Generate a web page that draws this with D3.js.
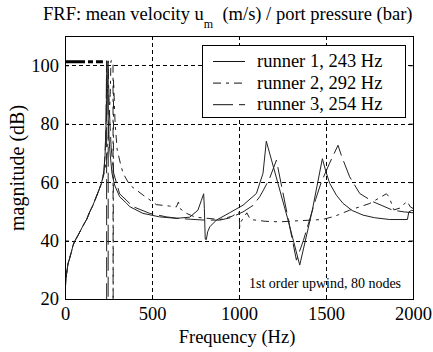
<!DOCTYPE html>
<html>
<head>
<meta charset="utf-8">
<script src="https://cdn.jsdelivr.net/npm/d3@7"></script>
<style>
  body { margin: 0; background: #fff; }
  svg text { font-family: "Liberation Serif", serif; fill: #000; }
</style>
</head>
<body>
<div id="chart"></div>
<script>
// ticks
const xTicks = [0, 500, 1000, 1500, 2000];
const yTicks = [20, 40, 60, 80, 100];

// shared low frequency branch [Hz, dB]
const lowFreq = [[0, 20], [2, 24], [5, 26.5], [10, 29], [17, 32], [27, 34], [37, 36.2], [47, 38.5],
  [58, 40], [75, 41.8], [103, 45], [125, 47.3], [142, 49.8], [160, 52], [180, 55], [195, 57.3], [209, 59.5]];

const runner1 = [[222, 63], [230, 69], [236, 80], [239, 92], [241, 101.5], [244, 92],
  [248, 82], [256, 72], [270, 63], [285, 59], [314, 55], [353, 52.8], [372, 51.6], [448, 49.3],
  [544, 48.1], [640, 47.6], [717, 48], [764, 50.4], [784, 53.8], [797, 56], [801, 51], [806, 40.5],
  [812, 40.3], [820, 43], [832, 44.7], [870, 47], [946, 49.5], [1023, 52.1], [1100, 56.1],
  [1138, 63], [1157, 74], [1282, 47], [1349, 31.6], [1420, 50], [1479, 68], [1500, 63.5],
  [1521, 59.6], [1560, 55.5], [1598, 52.7], [1650, 50.3], [1713, 48.7], [1780, 47.8], [1866, 47.2],
  [1968, 47.2], [1976, 49.8], [1990, 50.3], [2000, 50.3]];

const runner2 = [[225, 63], [240, 68], [252, 78], [260, 90], [264, 101.5], [276, 101.5], [276.5, 10],
  [279, 95], [288, 80], [300, 71], [320, 66], [334, 63], [372, 59], [448, 55.6], [525, 52.3],
  [600, 51.8], [640, 51.5], [652, 53.2], [660, 51], [698, 49.3], [750, 48], [890, 47.2],
  [960, 48.3], [1000, 49.8], [1004, 44.6], [1012, 46.5], [1045, 49.5], [1065, 47.2], [1150, 46.6],
  [1233, 46.4], [1350, 46.8], [1479, 47.2], [1550, 48.3], [1636, 50.4], [1752, 52.7], [1847, 56],
  [1862, 55], [1890, 50.5], [1930, 51.2], [1965, 53.5], [1985, 51.5], [2000, 51]];

const runner3 = [[225, 64], [232, 72], [236, 82], [238, 95], [239, 101.5], [239.5, 10], [248, 10],
  [248.5, 101.5], [251, 92], [257, 82], [265, 72], [280, 63], [314, 56], [391, 51.6], [487, 49.3],
  [583, 48.1], [650, 47.6], [720, 47.3], [800, 47], [890, 47], [950, 47.8], [1023, 49.8], [1080, 52],
  [1119, 55], [1138, 57], [1176, 61.3], [1215, 67.5], [1330, 33.3], [1370, 40], [1405, 47],
  [1440, 54], [1473, 60], [1520, 66.4], [1569, 72.6], [1589, 69], [1636, 61.8], [1694, 56.1],
  [1770, 53.3], [1883, 50.4], [1950, 49.8], [2000, 49.5]];

// thick flat line drawn at the top left of the original plot
const flatTop = [[0, 101.2], [218, 101.2]];

const legendLabels = ["runner 1, 243 Hz", "runner 2, 292 Hz", "runner 3, 254 Hz"];
const dashes = [null, "8,5,3,5", "20,6"];

const width = 433, height = 352;
const margin = { top: 36, right: 20, bottom: 53, left: 65 };
const serif = "Liberation Serif";

const svg = d3.select("#chart").append("svg")
  .attr("width", width)
  .attr("height", height)
  .attr("font-family", serif);

const x = d3.scaleLinear().domain([0, 2000]).range([margin.left, width - margin.right]);
const y = d3.scaleLinear().domain([20, 110]).range([height - margin.bottom, margin.top]);

svg.append("clipPath").attr("id", "plot-clip")
  .append("rect")
  .attr("x", x(0)).attr("y", y(110))
  .attr("width", x(2000) - x(0)).attr("height", y(20) - y(110));

// grid
const grid = svg.append("g").attr("stroke", "#000").attr("stroke-width", 1).attr("stroke-dasharray", "4,3");
grid.selectAll(".vgrid").data(xTicks.slice(1, -1)).join("line")
  .attr("x1", d => Math.round(x(d)) + 0.5).attr("x2", d => Math.round(x(d)) + 0.5)
  .attr("y1", y(110)).attr("y2", y(20));
grid.selectAll(".hgrid").data(yTicks.slice(1)).join("line")
  .attr("y1", d => Math.round(y(d)) + 0.5).attr("y2", d => Math.round(y(d)) + 0.5)
  .attr("x1", x(0)).attr("x2", x(2000));

// curves
const line = d3.line().x(d => x(d[0])).y(d => y(d[1]));
const curves = [lowFreq.concat(runner1), lowFreq.concat(runner2), lowFreq.concat(runner3)];
const plot = svg.append("g").attr("clip-path", "url(#plot-clip)");
plot.selectAll(".curve").data(curves).join("path")
  .attr("class", "curve")
  .attr("d", line)
  .attr("fill", "none")
  .attr("stroke", "#222")
  .attr("stroke-width", 1)
  .attr("stroke-dasharray", (d, i) => dashes[i]);
plot.append("path")
  .datum(flatTop)
  .attr("d", line)
  .attr("fill", "none")
  .attr("stroke", "#000")
  .attr("stroke-width", 3)
  .attr("stroke-dasharray", "20,3,5,3");

// axes, ticks inside on all sides
const fontSize = "18.5px";
const xAxis = svg.append("g").attr("transform", `translate(0,${y(20)})`)
  .call(d3.axisBottom(x).tickValues(xTicks).tickFormat(d3.format("d"))
    .tickSize(-4).tickSizeOuter(0).tickPadding(8));
const yAxis = svg.append("g").attr("transform", `translate(${x(0)},0)`)
  .call(d3.axisLeft(y).tickValues(yTicks).tickFormat(d3.format("d"))
    .tickSize(-4).tickSizeOuter(0).tickPadding(6));
svg.append("g").attr("transform", `translate(0,${y(110)})`)
  .call(d3.axisTop(x).tickValues(xTicks).tickSize(-4).tickSizeOuter(0).tickFormat(""));
svg.append("g").attr("transform", `translate(${x(2000)},0)`)
  .call(d3.axisRight(y).tickValues(yTicks).tickSize(-4).tickSizeOuter(0).tickFormat(""));
svg.selectAll(".domain").remove();
svg.selectAll(".tick line").attr("stroke", "#000");
[xAxis, yAxis].forEach(a => a.attr("font-family", serif).selectAll("text")
  .attr("font-size", fontSize)
  .attr("fill", "#000"));

svg.append("rect")
  .attr("x", x(0) + 0.5).attr("y", y(110) + 0.5)
  .attr("width", x(2000) - x(0)).attr("height", y(20) - y(110))
  .attr("fill", "none").attr("stroke", "#000");

// legend
const legend = svg.append("g");
legend.append("rect")
  .attr("x", 202.5).attr("y", 45.5).attr("width", 203).attr("height", 72)
  .attr("fill", "#fff").attr("stroke", "#000");
const rows = legend.selectAll(".row").data(legendLabels).join("g")
  .attr("transform", (d, i) => `translate(0,${61 + i * 21.6})`);
rows.append("line")
  .attr("x1", 213).attr("x2", 245).attr("y1", 0.5).attr("y2", 0.5)
  .attr("stroke", "#111")
  .attr("stroke-dasharray", (d, i) => dashes[i]);
rows.append("text")
  .attr("x", 257).attr("y", 6)
  .attr("font-size", fontSize)
  .text(d => d);

// titles
const title = svg.append("text")
  .attr("x", 43).attr("y", 20)
  .attr("font-size", fontSize);
title.append("tspan").text("FRF: mean velocity u");
title.append("tspan").attr("font-size", "12px").attr("dy", 8).text("m");
title.append("tspan").attr("dy", -8).text("\u00a0\u00a0(m/s) / port pressure (bar)");

svg.append("text")
  .attr("transform", `translate(24,168) rotate(-90)`)
  .attr("text-anchor", "middle")
  .attr("font-size", "20px")
  .text("magnitude (dB)");

svg.append("text")
  .attr("x", 237).attr("y", 343)
  .attr("text-anchor", "middle")
  .attr("font-size", fontSize)
  .text("Frequency (Hz)");

svg.append("text")
  .attr("x", 249).attr("y", 288)
  .attr("font-size", "14px")
  .text("1st order upwind, 80 nodes");
</script>
</body>
</html>
